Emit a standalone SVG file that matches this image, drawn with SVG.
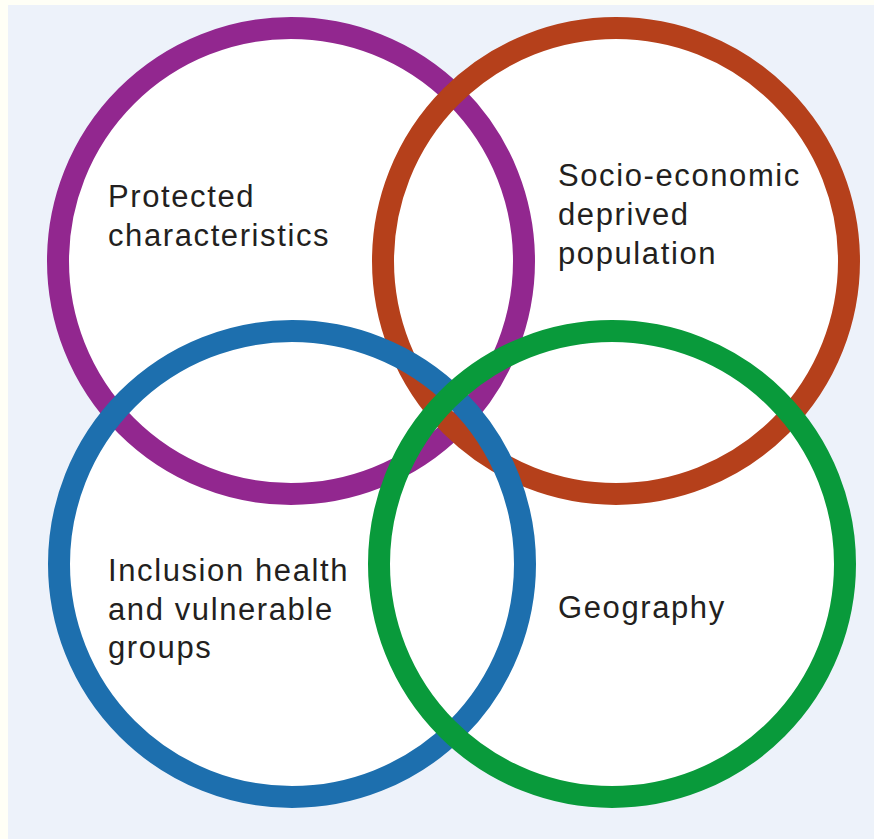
<svg xmlns="http://www.w3.org/2000/svg" width="874" height="839" viewBox="0 0 874 839">
  <style>
    .fill { fill: #ffffff; stroke: none; }
    .ring { fill: none; stroke-width: 22; }
    .lbl { font-family: "Liberation Sans", Arial, sans-serif; font-size: 31px; fill: #231f20; letter-spacing: 1.6px; }
  </style>
  <rect x="0" y="0" width="874" height="839" fill="#fffff6"/>
  <rect x="8" y="5" width="866" height="834" fill="#edf2fa"/>
  <g id="fills">
    <circle class="fill" cx="291" cy="261" r="233"/>
    <circle class="fill" cx="616" cy="261" r="233"/>
    <circle class="fill" cx="292" cy="564" r="233"/>
    <circle class="fill" cx="612" cy="564" r="233"/>
  </g>
  <g id="protected">
    <circle class="ring" cx="291" cy="261" r="233" stroke="#92278f"/>
    <text class="lbl" x="108" y="207">Protected</text>
    <text class="lbl" x="108" y="246">characteristics</text>
  </g>
  <g id="socio-economic">
    <circle class="ring" cx="616" cy="261" r="233" stroke="#b5401b"/>
    <text class="lbl" x="558" y="186">Socio-economic</text>
    <text class="lbl" x="558" y="225">deprived</text>
    <text class="lbl" x="558" y="264">population</text>
  </g>
  <g id="inclusion">
    <circle class="ring" cx="292" cy="564" r="233" stroke="#1d6fae"/>
    <text class="lbl" x="108" y="581">Inclusion health</text>
    <text class="lbl" x="108" y="620">and vulnerable</text>
    <text class="lbl" x="108" y="658">groups</text>
  </g>
  <g id="geography">
    <circle class="ring" cx="612" cy="564" r="233" stroke="#099a3b"/>
    <text class="lbl" x="558" y="618">Geography</text>
  </g>
  <g id="connectors"/>
</svg>
